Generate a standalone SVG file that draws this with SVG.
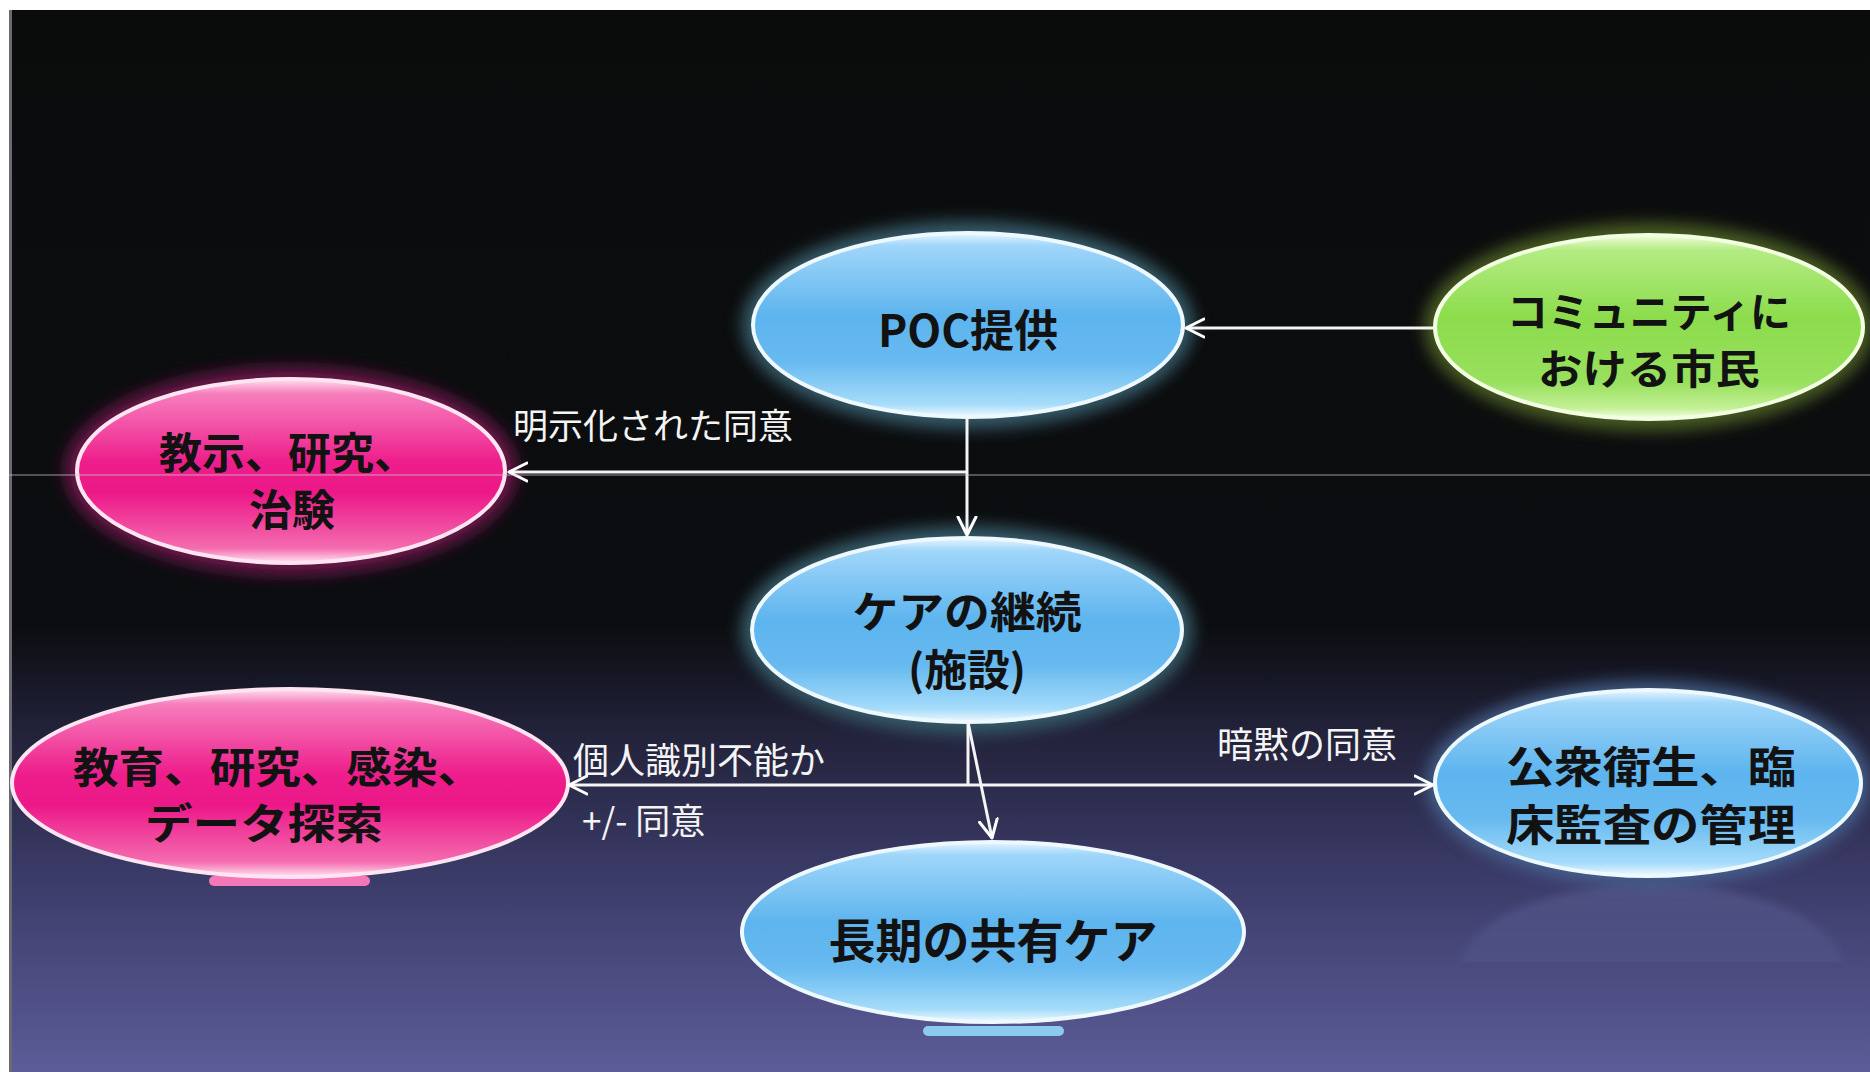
<svg xmlns="http://www.w3.org/2000/svg" width="1870" height="1072" viewBox="0 0 1870 1072">
<defs>
<linearGradient id="bg" x1="0" y1="10" x2="0" y2="1072" gradientUnits="userSpaceOnUse">
<stop offset="0" stop-color="#0a0c0c"/>
<stop offset="0.58" stop-color="#0b0d10"/>
<stop offset="0.68" stop-color="#22223a"/>
<stop offset="0.82" stop-color="#3c3c6a"/>
<stop offset="1" stop-color="#5c5c98"/>
</linearGradient>
<linearGradient id="blueFill" x1="0" y1="0" x2="0" y2="1">
<stop offset="0" stop-color="#e6f6ff"/>
<stop offset="0.07" stop-color="#a0d6fa"/>
<stop offset="0.45" stop-color="#5db4ee"/>
<stop offset="0.7" stop-color="#68baf0"/>
<stop offset="0.93" stop-color="#a6dcfa"/>
<stop offset="1" stop-color="#eef9ff"/>
</linearGradient>
<linearGradient id="pinkFill" x1="0" y1="0" x2="0" y2="1">
<stop offset="0" stop-color="#ffe0f0"/>
<stop offset="0.08" stop-color="#f67ebc"/>
<stop offset="0.45" stop-color="#ee1e8c"/>
<stop offset="0.62" stop-color="#ec1888"/>
<stop offset="0.92" stop-color="#f46cb0"/>
<stop offset="1" stop-color="#ffe6f2"/>
</linearGradient>
<linearGradient id="greenFill" x1="0" y1="0" x2="0" y2="1">
<stop offset="0" stop-color="#f0ffe0"/>
<stop offset="0.08" stop-color="#b4ec84"/>
<stop offset="0.45" stop-color="#8cdc4c"/>
<stop offset="0.8" stop-color="#98e05e"/>
<stop offset="0.94" stop-color="#c4f096"/>
<stop offset="1" stop-color="#f4ffe8"/>
</linearGradient>
<linearGradient id="refl" x1="0" y1="0" x2="0" y2="1">
<stop offset="0" stop-color="#8a96d4" stop-opacity="0.22"/>
<stop offset="0.45" stop-color="#7c88c8" stop-opacity="0.1"/>
<stop offset="1" stop-color="#7c88c8" stop-opacity="0"/>
</linearGradient>
<filter id="glow" x="-20%" y="-30%" width="140%" height="160%">
<feGaussianBlur stdDeviation="8"/>
</filter>
<filter id="reflBlur" x="-10%" y="-20%" width="120%" height="140%">
<feGaussianBlur stdDeviation="4"/>
</filter>
<clipPath id="reflClip"><rect x="1400" y="882" width="470" height="80"/></clipPath>
<marker id="arr" markerUnits="userSpaceOnUse" markerWidth="22" markerHeight="22" viewBox="0 0 22 22" refX="19" refY="11" orient="auto">
<path d="M1,2 L19,11 L1,20" fill="none" stroke="#ffffff" stroke-width="3" stroke-linecap="round" stroke-linejoin="round"/>
</marker>
<style>
.node-t{font-family:"Noto Sans CJK JP","Noto Sans CJK SC",sans-serif;font-weight:bold;fill:#121212;text-anchor:middle;dominant-baseline:central}
.lbl{font-family:"Noto Sans CJK JP","Noto Sans CJK SC",sans-serif;font-weight:normal;fill:#f4f4f4;dominant-baseline:central}
.rim{stroke:#eef9ff;stroke-width:4}
.prim{stroke:#ffe4f2;stroke-width:4}
.grim{stroke:#f2ffe2;stroke-width:4}
.conn{fill:none;stroke:#f4f4f4;stroke-width:3}
</style>
</defs>

<rect x="0" y="0" width="1870" height="1072" fill="#ffffff"/>
<rect x="9" y="10" width="1861" height="1062" fill="url(#bg)"/>
<rect x="9" y="10" width="3" height="1062" fill="#6a6a70"/>

<g id="node-poc">
<ellipse cx="968" cy="325" rx="226" ry="104" fill="#355a68" filter="url(#glow)"/>
<ellipse cx="968" cy="325" rx="215" ry="92" fill="url(#blueFill)" class="rim"/>
<text class="node-t" x="968" y="328" font-size="44">POC提供</text>
</g>

<g id="node-community">
<ellipse cx="1649" cy="327" rx="225" ry="104" fill="#4a5c22" filter="url(#glow)"/>
<ellipse cx="1649" cy="327" rx="214" ry="92" fill="url(#greenFill)" class="grim"/>
<text class="node-t" x="1649" y="309" font-size="41" textLength="284" lengthAdjust="spacingAndGlyphs">コミュニティに</text>
<text class="node-t" x="1649" y="366" font-size="41" textLength="222" lengthAdjust="spacingAndGlyphs">おける市民</text>
</g>

<g id="node-teaching">
<ellipse cx="291" cy="471" rx="226" ry="104" fill="#6a1848" filter="url(#glow)"/>
<ellipse cx="291" cy="471" rx="214" ry="92" fill="url(#pinkFill)" class="prim"/>
<text class="node-t" x="288" y="450" font-size="43">教示、研究、</text>
<text class="node-t" x="292" y="507" font-size="43">治験</text>
</g>

<g id="node-care">
<ellipse cx="967" cy="630" rx="226" ry="104" fill="#355a68" filter="url(#glow)"/>
<ellipse cx="967" cy="630" rx="215" ry="92" fill="url(#blueFill)" class="rim"/>
<text class="node-t" x="967" y="609" font-size="43" textLength="229" lengthAdjust="spacingAndGlyphs">ケアの継続</text>
<text class="node-t" x="967" y="667" font-size="43" textLength="118" lengthAdjust="spacingAndGlyphs">(施設)</text>
</g>

<g id="node-education">
<rect x="209" y="876" width="161" height="10" rx="5" fill="#f478b8"/>
<ellipse cx="290" cy="783" rx="278" ry="94" fill="url(#pinkFill)" class="prim"/>
<text class="node-t" x="278" y="764" font-size="42" textLength="410" lengthAdjust="spacingAndGlyphs">教育、研究、感染、</text>
<text class="node-t" x="264" y="820" font-size="42" textLength="238" lengthAdjust="spacingAndGlyphs">データ探索</text>
</g>

<g id="node-public-health">
<ellipse cx="1652" cy="968" rx="190" ry="84" fill="url(#refl)" clip-path="url(#reflClip)" filter="url(#reflBlur)"/>
<ellipse cx="1648" cy="783" rx="222" ry="102" fill="#4a6a98" filter="url(#glow)" opacity="0.8"/>
<ellipse cx="1648" cy="783" rx="213" ry="93" fill="url(#blueFill)" class="rim"/>
<text class="node-t" x="1651" y="764" font-size="43" textLength="290" lengthAdjust="spacingAndGlyphs">公衆衛生、臨</text>
<text class="node-t" x="1651" y="822" font-size="43" textLength="290" lengthAdjust="spacingAndGlyphs">床監査の管理</text>
</g>

<g id="node-longterm">
<rect x="923" y="1026" width="141" height="10" rx="5" fill="#8ccaf2"/>
<ellipse cx="993" cy="932" rx="251" ry="90" fill="url(#blueFill)" class="rim"/>
<text class="node-t" x="993" y="937" font-size="47">長期の共有ケア</text>
</g>

<g id="connectors">
<path class="conn" d="M1435,328 H1186" marker-end="url(#arr)"/>
<path class="conn" d="M967,417 V535" marker-end="url(#arr)"/>
<path class="conn" d="M967,472 H509" marker-end="url(#arr)"/>
<path class="conn" d="M968,722 V785"/>
<path class="conn" d="M968,785 H569" marker-end="url(#arr)"/>
<path class="conn" d="M968,785 H1433" marker-end="url(#arr)"/>
<path class="conn" d="M968,722 L992,838" marker-end="url(#arr)"/>
<text class="lbl" x="513" y="423" font-size="35">明示化された同意</text>
<text class="lbl" x="573" y="758" font-size="36">個人識別不能か</text>
<text class="lbl" x="582" y="818" font-size="35">+/- 同意</text>
<text class="lbl" x="1217" y="742" font-size="36">暗黙の同意</text>
</g>

<line x1="9" y1="475" x2="1870" y2="475" stroke="#c8c8c8" stroke-width="1" opacity="0.75"/>
</svg>
